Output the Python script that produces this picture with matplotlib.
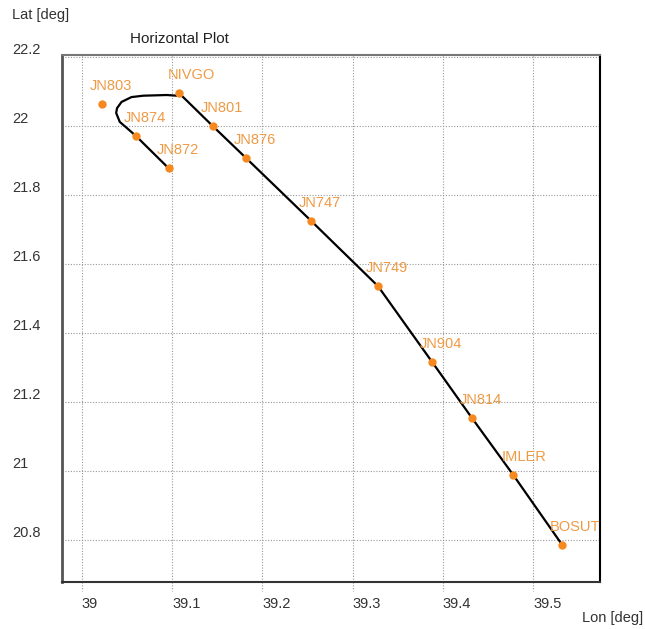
import matplotlib

matplotlib.use("Agg")

import matplotlib.pyplot as plt
import matplotlib.transforms as mtransforms

plt.rcParams["font.family"] = ["Liberation Sans", "DejaVu Sans"]

# flown track (lon, lat)
track_lon = [39.532, 39.478, 39.432, 39.388, 39.328, 39.254, 39.182, 39.145, 39.111,
             39.094, 39.068, 39.055, 39.044, 39.039, 39.038, 39.042, 39.050, 39.060, 39.096]
track_lat = [20.786, 20.988, 21.154, 21.316, 21.536, 21.725, 21.907, 22.000, 22.087,
             22.090, 22.088, 22.084, 22.070, 22.052, 22.038, 22.012, 21.994, 21.971, 21.878]

# waypoints
wp_names = ["JN803", "NIVGO", "JN801", "JN876", "JN747", "JN749", "JN904",
            "JN814", "IMLER", "BOSUT", "JN874", "JN872"]
wp_lon = [39.022, 39.108, 39.145, 39.182, 39.254, 39.328, 39.388,
          39.432, 39.478, 39.532, 39.060, 39.096]
wp_lat = [22.064, 22.096, 22.000, 21.907, 21.725, 21.536, 21.316,
          21.154, 20.988, 20.786, 21.971, 21.878]

x_ticks = [39.0, 39.1, 39.2, 39.3, 39.4, 39.5]
x_labels = ["39", "39.1", "39.2", "39.3", "39.4", "39.5"]
y_ticks = [20.8, 21.0, 21.2, 21.4, 21.6, 21.8, 22.0, 22.2]
y_labels = ["20.8", "21", "21.2", "21.4", "21.6", "21.8", "22", "22.2"]

W, H = 645, 629
fig = plt.figure(figsize=(W / 100, H / 100), dpi=100)
ax = fig.add_axes([62 / W, (H - 582) / H, (600 - 62) / W, (582 - 55) / H])

orange = "#f5891f"
label_orange = "#ee9a45"
tick_color = "#333333"

ax.plot(track_lon, track_lat, color="black", lw=1.6, zorder=3, solid_capstyle="round")
ax.plot(wp_lon, wp_lat, "o", color=orange, ms=5, zorder=4)
for name, lo, la in zip(wp_names, wp_lon, wp_lat):
    ax.annotate(name, (lo, la), xytext=(-12, 18), textcoords="offset pixels",
                ha="left", va="center", color=label_orange, fontsize=10.5, zorder=5)

ax.set_xlim(38.978, 39.574)
ax.set_ylim(20.678, 22.206)

ax.set_xticks(x_ticks, x_labels)
ax.set_yticks(y_ticks, y_labels)
ax.grid(True, color="#999999", lw=0.8, linestyle=(0, (1, 1.5)))
ax.tick_params(axis="both", length=0, labelsize=10.5, colors=tick_color)
ax.tick_params(axis="x", pad=11)
ax.tick_params(axis="y", pad=36)
plt.setp(ax.get_xticklabels(), ha="left")
plt.setp(ax.get_yticklabels(), ha="left", va="bottom")

# dotted tick stubs below the bottom spine
trans = mtransforms.blended_transform_factory(ax.transData, ax.transAxes)
for xt in x_ticks:
    ax.plot([xt, xt], [0, -0.018], transform=trans, clip_on=False,
            color="#999999", lw=0.8, linestyle=(0, (1, 1.5)))

ax.spines["left"].set_color("#555555")
ax.spines["left"].set_linewidth(2)
ax.spines["bottom"].set_color("#333333")
ax.spines["bottom"].set_linewidth(1.5)
ax.spines["right"].set_color("black")
ax.spines["right"].set_linewidth(1.5)
ax.spines["top"].set_color("#777777")
ax.spines["top"].set_linewidth(1.5)

fig.text(12 / W, 1 - 15 / H, "Lat [deg]", ha="left", va="center", fontsize=10.5, color=tick_color)
fig.text(130 / W, 1 - 39 / H, "Horizontal Plot", ha="left", va="center", fontsize=11, color="#222222")
fig.text(643 / W, 1 - 618 / H, "Lon [deg]", ha="right", va="center", fontsize=10.5, color=tick_color)

fig.savefig("out.png", dpi=100)
